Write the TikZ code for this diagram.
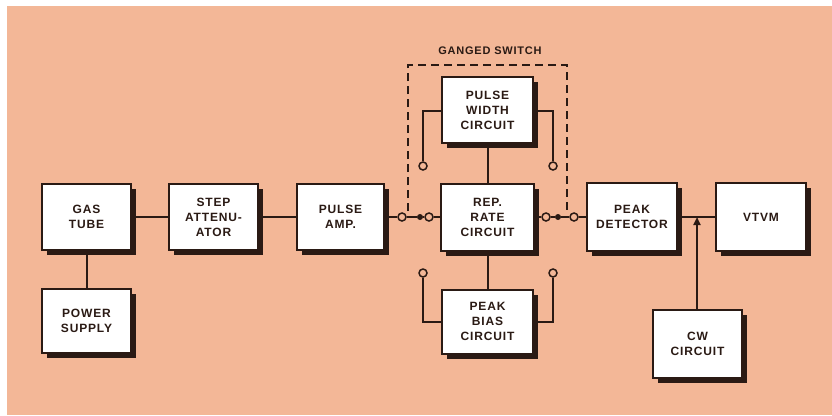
\documentclass[tikz,border=0pt]{standalone}
\usepackage{fontspec}
\setmainfont{Liberation Sans}
\usetikzlibrary{shadows,arrows.meta}
\definecolor{bgsalmon}{HTML}{F3B797}
\definecolor{ink}{HTML}{2A1A14}
\newfontfamily\lblfont[LetterSpace=7]{Liberation Sans Bold}
\tikzset{
  blk/.style={draw=ink, line width=2pt, fill=white, align=center,
    font=\lblfont\fontsize{12}{15}\selectfont, text=ink,
    minimum width=89pt, minimum height=66pt, inner sep=0pt,
    drop shadow={shadow xshift=5pt, shadow yshift=-5pt, fill=ink, opacity=1}},
  wire/.style={draw=ink, line width=2pt},
  term/.style={circle, draw=ink, line width=1.5pt, fill=bgsalmon, minimum size=8pt, inner sep=0pt},
  pivot/.style={circle, fill=ink, minimum size=6pt, inner sep=0pt},
  gang/.style={draw=ink, line width=2pt, dash pattern=on 8pt off 5pt}
}
\begin{document}
\begin{tikzpicture}[x=1pt,y=-1pt]
\useasboundingbox (0,0) rectangle (832,415);
\fill[white] (0,0) rectangle (832,415);
\fill[bgsalmon] (7,6) rectangle (832,415);

% boxes
\node[blk] (gas)   at (86.5,217) {GAS\\TUBE};
\node[blk, minimum height=64pt] (power) at (86.5,321) {POWER\\SUPPLY};
\node[blk] (step)  at (213.5,217) {STEP\\ATTENU-\\ATOR};
\node[blk, minimum width=87pt] (pamp)  at (340.5,217) {PULSE\\AMP.};
\node[blk, minimum width=93pt, minimum height=67pt] (rep) at (487.5,217) {REP.\\RATE\\CIRCUIT};
\node[blk, minimum width=91pt] (pw)    at (487.5,110) {PULSE\\WIDTH\\CIRCUIT};
\node[blk, minimum width=91pt, minimum height=64pt] (pb) at (487.5,321.5) {PEAK\\BIAS\\CIRCUIT};
\node[blk, minimum width=90pt, minimum height=68pt] (pd) at (632,217) {PEAK\\DETECTOR};
\node[blk, minimum width=90pt, minimum height=68pt] (vtvm) at (761,217) {VTVM};
\node[blk, minimum height=68pt] (cw) at (697.5,344) {CW\\CIRCUIT};

% switch terminals
\node[term] (l1) at (402,217) {};
\node[pivot] (lp) at (420,217) {};
\node[term] (l2) at (429,217) {};
\node[term] (r1) at (546,217) {};
\node[pivot] (rp) at (558,217) {};
\node[term] (r2) at (574,217) {};
\node[term] (pwl) at (423,166) {};
\node[term] (pwr) at (553,166) {};
\node[term] (pbl) at (423,273) {};
\node[term] (pbr) at (553,273) {};
\coordinate (junc) at (697,217);

% main chain
\draw[wire] (gas.east) -- (step.west);
\draw[wire] (step.east) -- (pamp.west);
\draw[wire] (pamp.east) -- (l1.west);
\draw[wire] (l1.east) -- (lp.west);
\draw[wire] (lp.east) -- (l2.west);
\draw[wire] (l2.east) -- (rep.west);
\draw[wire] (rep.east) -- (r1.west);
\draw[wire] (r1.east) -- (rp.west);
\draw[wire] (rp.east) -- (r2.west);
\draw[wire] (r2.east) -- (pd.west);
\draw[wire] (pd.east) -- (vtvm.west);
\draw[wire] (gas.south) -- (power.north);
\draw[wire] (pw.south) -- (rep.north);
\draw[wire] (rep.south) -- (pb.north);
\draw[wire] (pwl.north) |- (pw.west|-0,111);
\draw[wire] (pwr.north) |- (pw.east|-0,111);
\draw[wire] (pbl.south) |- (pb.west|-0,322);
\draw[wire] (pbr.south) |- (pb.east|-0,322);
\draw[wire, -{Triangle[length=8pt,width=7pt]}] (cw.north-|junc) -- (junc);

% ganged switch
\draw[gang] (408,211) -- (408,65) -- (567,65) -- (567,211);
\node[font=\lblfont\fontsize{11}{13}\selectfont, text=ink] (glabel) at (490,51) {GANGED SWITCH};
\end{tikzpicture}
\end{document}
